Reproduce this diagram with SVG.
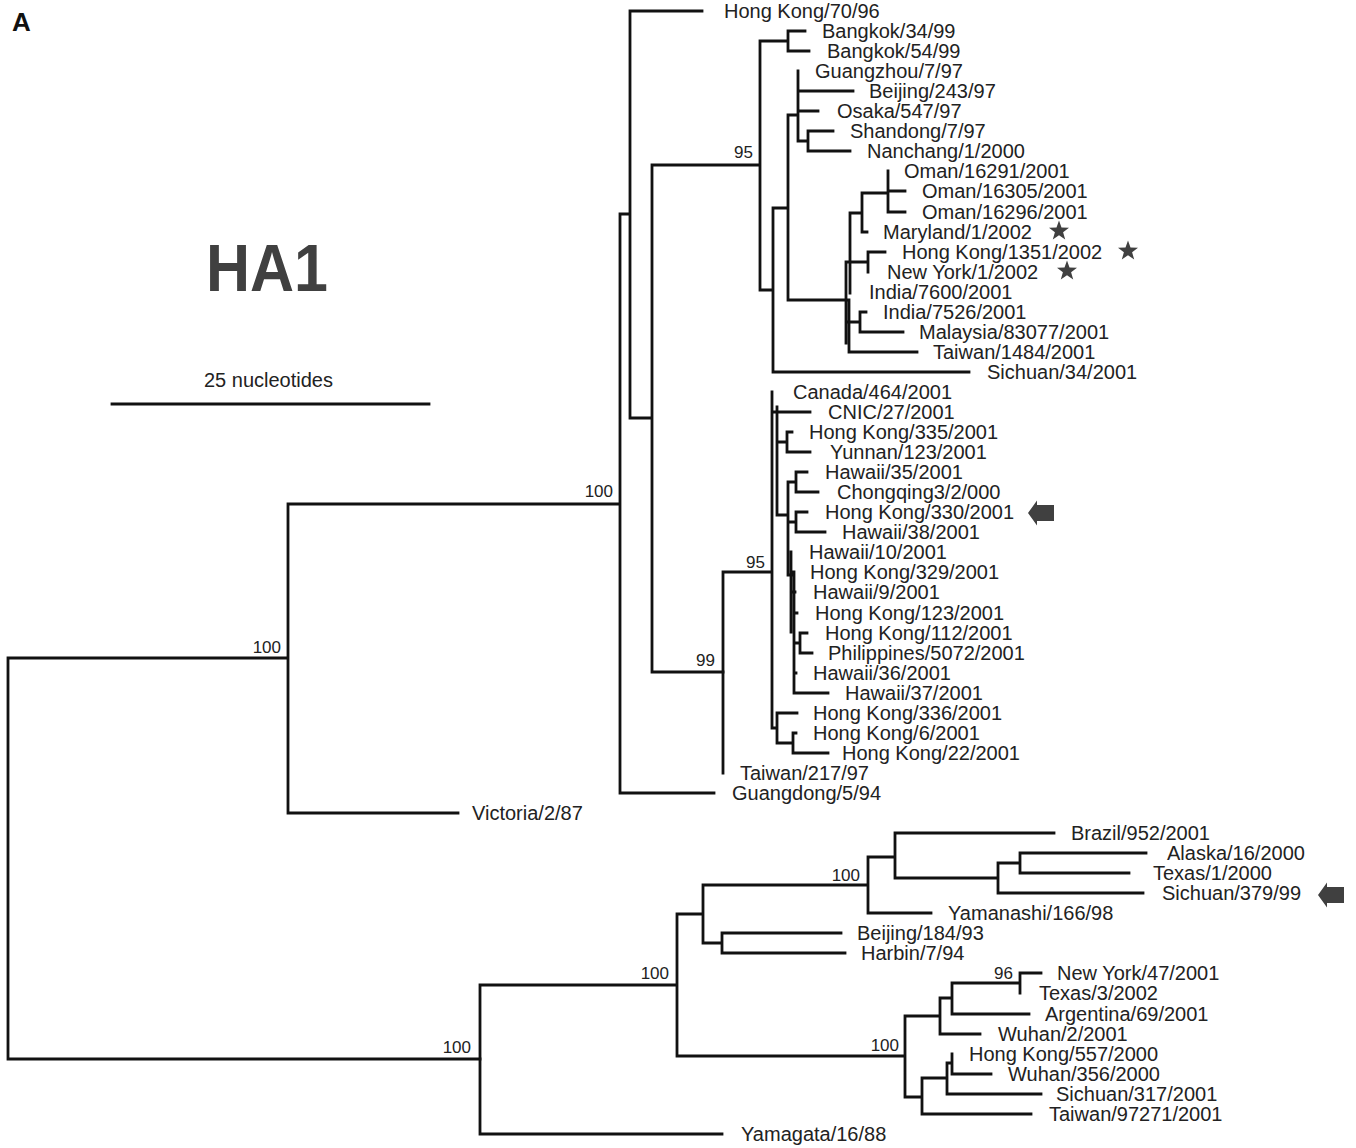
<svg xmlns="http://www.w3.org/2000/svg" width="1356" height="1148" viewBox="0 0 1356 1148">
<defs>
<style>
.br{fill:none;stroke:#111;stroke-width:2.8;stroke-linecap:square;stroke-linejoin:miter}
.lb{font-family:"Liberation Sans",Arial,sans-serif;font-size:20px;fill:#222}
.bs{font-family:"Liberation Sans",Arial,sans-serif;font-size:17px;fill:#222;text-anchor:end}
.mk{fill:#404040}
</style>
<path id="star" d="M0,-10.5 L2.5,-3.4 L10,-3.2 L4.1,1.3 L6.2,8.5 L0,4.3 L-6.2,8.5 L-4.1,1.3 L-10,-3.2 L-2.5,-3.4 Z"/>
<path id="arrow" d="M0,0 L9,-12.5 L9,-8 L26,-8 L26,8 L9,8 L9,12.5 Z"/>
</defs>
<rect width="1356" height="1148" fill="#fff"/>

<g id="title">
<text x="12" y="31" font-family="Liberation Sans,Arial,sans-serif" font-weight="bold" font-size="26" fill="#111">A</text>
<text x="206" y="291" font-family="Liberation Sans,Arial,sans-serif" font-weight="bold" font-size="66" fill="#404040" textLength="122" lengthAdjust="spacingAndGlyphs">HA1</text>
</g>

<g id="scale-bar">
<text class="lb" x="204" y="387">25 nucleotides</text>
<path class="br" d="M112,404 H429"/>
</g>

<g id="connectors">
<path class="br" d="M8,658 V1059 M8,658 H288 M8,1059 H480
M288,504 V813 M288,504 H620 M288,813 H458
M620,214 V793 M620,214 H630 M620,793 H714
M630,11 V418 M630,11 H702 M630,418 H652
M652,165 V672 M652,165 H760 M652,672 H723
M760,41 V290 M760,41 H788 M760,290 H773
M788,31 V51 M788,31 H805 M788,51 H809
M773,208 V372 M773,208 H788 M773,372 H969
M788,115 V300 M788,115 H798 M788,300 H847
M798,71 V141 M798,91 H853 M798,111 H818 M798,141 H808
M808,131 V151 M808,131 H833 M808,151 H850
M850,213 V293 M846,262 V343 M849,300 V352
M850,213 H862 M862,193 V232 M862,232 H867
M862,193 H888 M888,171 V212 M888,191 H905 M888,212 H905
M847,262 H868 M868,252 V272 M868,252 H885
M847,322 H860 M860,312 V332 M860,312 H866 M860,332 H903
M849,352 H917"/>
<path class="br" d="M723,572 V773 M723,572 H772
M772,392 V728 M772,412 H810
M777,407 V515
M777,442 H787 M787,432 V452 M787,432 H792 M787,452 H810
M777,515 H788 M788,482 V575
M788,482 H796 M796,472 V492 M796,472 H807 M796,492 H818
M788,522 H796 M796,512 V532 M796,512 H807 M796,532 H825
M791,552 V632
M788,575 H794 M794,575 V693 M794,693 H828
M791,572 H794 M791,592 H795 M794,613 H797 M794,673 H796
M794,643 H800 M800,633 V653 M800,633 H807 M800,653 H812
M772,728 H777 M777,713 V743 M777,713 H797 M777,743 H793 M793,733 V753 M793,733 H796 M793,753 H828"/>
<path class="br" d="M480,985 V1134 M480,1134 H722 M480,985 H677
M677,914 V1056 M677,914 H703 M677,1056 H905
M703,885 V943 M703,885 H868 M703,943 H722
M722,933 V953 M722,933 H841 M722,953 H845
M868,857 V913 M868,913 H931 M868,857 H895
M895,833 V878 M895,833 H1054 M895,878 H998
M998,863 V893 M998,893 H1143 M998,863 H1020
M1020,853 V873 M1020,853 H1146 M1020,873 H1129
M905,1016 V1097 M905,1016 H940 M905,1097 H922
M940,998 V1034 M940,1034 H980 M940,998 H952
M952,983 V1014 M952,1014 H1029 M952,983 H1020
M1020,973 V993 M1020,973 H1041
M922,1078 V1114 M922,1114 H1031 M922,1078 H947
M947,1063 V1094 M947,1094 H1041 M947,1063 H952
M952,1054 V1074 M952,1074 H991"/>
</g>

<g id="bootstrap">
<text class="bs" x="281" y="653">100</text>
<text class="bs" x="613" y="497">100</text>
<text class="bs" x="753" y="158">95</text>
<text class="bs" x="715" y="666">99</text>
<text class="bs" x="765" y="568">95</text>
<text class="bs" x="471" y="1053">100</text>
<text class="bs" x="669" y="979">100</text>
<text class="bs" x="860" y="881">100</text>
<text class="bs" x="899" y="1051">100</text>
<text class="bs" x="1013" y="979">96</text>
</g>

<g id="leaves">
<g id="n0"><text class="lb" x="724" y="18">Hong Kong/70/96</text></g>
<g id="n1"><text class="lb" x="822" y="38">Bangkok/34/99</text></g>
<g id="n2"><text class="lb" x="827" y="58">Bangkok/54/99</text></g>
<g id="n3"><text class="lb" x="815" y="78">Guangzhou/7/97</text></g>
<g id="n4"><text class="lb" x="869" y="98">Beijing/243/97</text></g>
<g id="n5"><text class="lb" x="837" y="118">Osaka/547/97</text></g>
<g id="n6"><text class="lb" x="850" y="138">Shandong/7/97</text></g>
<g id="n7"><text class="lb" x="867" y="158">Nanchang/1/2000</text></g>
<g id="n8"><text class="lb" x="904" y="178">Oman/16291/2001</text></g>
<g id="n9"><text class="lb" x="922" y="198">Oman/16305/2001</text></g>
<g id="n10"><text class="lb" x="922" y="219">Oman/16296/2001</text></g>
<g id="n11"><text class="lb" x="883" y="239">Maryland/1/2002</text><use href="#star" class="mk" x="1059" y="231"/></g>
<g id="n12"><text class="lb" x="902" y="259">Hong Kong/1351/2002</text><use href="#star" class="mk" x="1128" y="251"/></g>
<g id="n13"><text class="lb" x="887" y="279">New York/1/2002</text><use href="#star" class="mk" x="1067" y="271"/></g>
<g id="n14"><text class="lb" x="869" y="299">India/7600/2001</text></g>
<g id="n15"><text class="lb" x="883" y="319">India/7526/2001</text></g>
<g id="n16"><text class="lb" x="919" y="339">Malaysia/83077/2001</text></g>
<g id="n17"><text class="lb" x="933" y="359">Taiwan/1484/2001</text></g>
<g id="n18"><text class="lb" x="987" y="379">Sichuan/34/2001</text></g>
<g id="n19"><text class="lb" x="793" y="399">Canada/464/2001</text></g>
<g id="n20"><text class="lb" x="828" y="419">CNIC/27/2001</text></g>
<g id="n21"><text class="lb" x="809" y="439">Hong Kong/335/2001</text></g>
<g id="n22"><text class="lb" x="830" y="459">Yunnan/123/2001</text></g>
<g id="n23"><text class="lb" x="825" y="479">Hawaii/35/2001</text></g>
<g id="n24"><text class="lb" x="837" y="499">Chongqing3/2/000</text></g>
<g id="n25"><text class="lb" x="825" y="519">Hong Kong/330/2001</text><use href="#arrow" class="mk" x="1028" y="513"/></g>
<g id="n26"><text class="lb" x="842" y="539">Hawaii/38/2001</text></g>
<g id="n27"><text class="lb" x="809" y="559">Hawaii/10/2001</text></g>
<g id="n28"><text class="lb" x="810" y="579">Hong Kong/329/2001</text></g>
<g id="n29"><text class="lb" x="813" y="599">Hawaii/9/2001</text></g>
<g id="n30"><text class="lb" x="815" y="620">Hong Kong/123/2001</text></g>
<g id="n31"><text class="lb" x="825" y="640">Hong Kong/112/2001</text></g>
<g id="n32"><text class="lb" x="828" y="660">Philippines/5072/2001</text></g>
<g id="n33"><text class="lb" x="813" y="680">Hawaii/36/2001</text></g>
<g id="n34"><text class="lb" x="845" y="700">Hawaii/37/2001</text></g>
<g id="n35"><text class="lb" x="813" y="720">Hong Kong/336/2001</text></g>
<g id="n36"><text class="lb" x="813" y="740">Hong Kong/6/2001</text></g>
<g id="n37"><text class="lb" x="842" y="760">Hong Kong/22/2001</text></g>
<g id="n38"><text class="lb" x="740" y="780">Taiwan/217/97</text></g>
<g id="n39"><text class="lb" x="732" y="800">Guangdong/5/94</text></g>
<g id="n40"><text class="lb" x="472" y="820">Victoria/2/87</text></g>
<g id="n41"><text class="lb" x="1071" y="840">Brazil/952/2001</text></g>
<g id="n42"><text class="lb" x="1167" y="860">Alaska/16/2000</text></g>
<g id="n43"><text class="lb" x="1153" y="880">Texas/1/2000</text></g>
<g id="n44"><text class="lb" x="1162" y="900">Sichuan/379/99</text><use href="#arrow" class="mk" x="1318" y="895"/></g>
<g id="n45"><text class="lb" x="948" y="920">Yamanashi/166/98</text></g>
<g id="n46"><text class="lb" x="857" y="940">Beijing/184/93</text></g>
<g id="n47"><text class="lb" x="861" y="960">Harbin/7/94</text></g>
<g id="n48"><text class="lb" x="1057" y="980">New York/47/2001</text></g>
<g id="n49"><text class="lb" x="1039" y="1000">Texas/3/2002</text></g>
<g id="n50"><text class="lb" x="1045" y="1021">Argentina/69/2001</text></g>
<g id="n51"><text class="lb" x="998" y="1041">Wuhan/2/2001</text></g>
<g id="n52"><text class="lb" x="969" y="1061">Hong Kong/557/2000</text></g>
<g id="n53"><text class="lb" x="1008" y="1081">Wuhan/356/2000</text></g>
<g id="n54"><text class="lb" x="1056" y="1101">Sichuan/317/2001</text></g>
<g id="n55"><text class="lb" x="1049" y="1121">Taiwan/97271/2001</text></g>
<g id="n56"><text class="lb" x="741" y="1141">Yamagata/16/88</text></g>
</g>
</svg>
